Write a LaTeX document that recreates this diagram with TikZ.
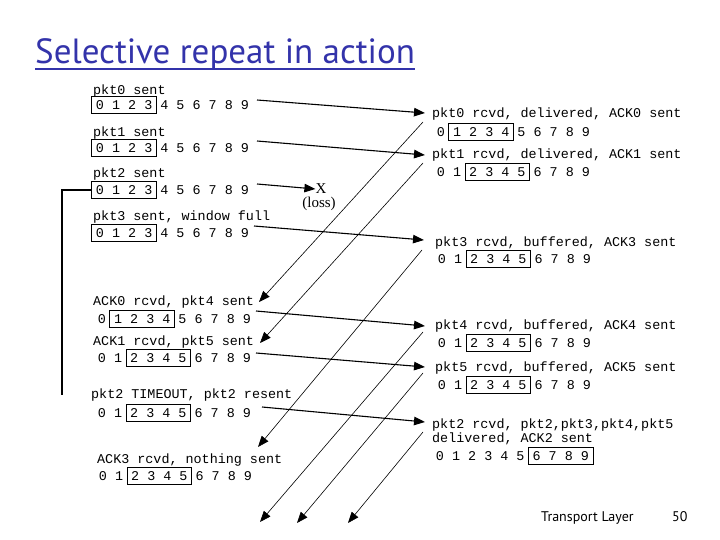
\documentclass[tikz,border=0pt]{standalone}
\usepackage{fontspec}
\setmainfont{Liberation Serif}
\newfontfamily\monofont{Liberation Mono}
\newfontfamily\titlefont{PT Sans}
\usetikzlibrary{arrows.meta,calc}
\definecolor{titleblue}{RGB}{51,51,170}
\tikzset{
  lbl/.style={font=\monofont\fontsize{13.4}{14}\selectfont, inner sep=0, anchor=west},
  dig/.style={font=\monofont\fontsize{13.4}{14}\selectfont, inner sep=0, minimum width=16.1pt, minimum height=17pt},
  win/.style={draw, line width=0.9pt},
  pkt/.style={line width=1.1pt, -{Triangle[length=11pt,width=8.5pt]}},
  ack/.style={line width=0.6pt, -{Triangle[length=11pt,width=8.5pt]}},
  losslbl/.style={font=\fontsize{15}{16}\selectfont, inner sep=0},
}
\newcommand\winrow[5]{%
  \foreach \d in {0,...,9}{\node[dig] (#1-\d) at ({#2+16.1*\d},#3) {\d};}
  \draw[win] (#1-#4.north west) rectangle (#1-#5.south east);
}
\begin{document}
\begin{tikzpicture}[x=1pt,y=-1pt]
\useasboundingbox (0,0) rectangle (720,540);

% title
\node[font=\titlefont\fontsize{35}{38}\selectfont, text=titleblue, anchor=base west, inner sep=0] (title) at (35,64) {Selective repeat in action};
\draw[titleblue, line width=2pt] ($(title.base west)+(0,5)$) -- ($(title.base east)+(0,5)$);

% sender labels
\node[lbl] (s0) at (93,91) {pkt0 sent};
\node[lbl] (s1) at (93,133) {pkt1 sent};
\node[lbl] (s2) at (93,174) {pkt2 sent};
\node[lbl] (s3) at (93,217) {pkt3 sent, window full};
\node[lbl] (s4) at (93,302) {ACK0 rcvd, pkt4 sent};
\node[lbl] (s5) at (93,342) {ACK1 rcvd, pkt5 sent};
\node[lbl] (s6) at (91,395) {pkt2 TIMEOUT, pkt2 resent};
\node[lbl] (s7) at (97,460) {ACK3 rcvd, nothing sent};

% sender windows
\winrow{S0}{100}{105}{0}{3}
\winrow{S1}{100}{148}{0}{3}
\winrow{S2}{100}{190}{0}{3}
\winrow{S3}{100}{233}{0}{3}
\winrow{S4}{102}{319}{1}{4}
\winrow{S5}{102}{358}{2}{5}
\winrow{S6}{102}{413}{2}{5}
\winrow{S7}{103}{476}{2}{5}

% receiver labels
\node[lbl] (r0) at (432,114) {pkt0 rcvd, delivered, ACK0 sent};
\node[lbl] (r1) at (432,155) {pkt1 rcvd, delivered, ACK1 sent};
\node[lbl] (r3) at (435,243) {pkt3 rcvd, buffered, ACK3 sent};
\node[lbl] (r4) at (435,326) {pkt4 rcvd, buffered, ACK4 sent};
\node[lbl] (r5) at (435,368) {pkt5 rcvd, buffered, ACK5 sent};
\node[lbl] (r2a) at (432,425) {pkt2 rcvd, pkt2,pkt3,pkt4,pkt5};
\node[lbl] (r2b) at (432,439) {delivered, ACK2 sent};

% receiver windows
\winrow{R0}{441}{132}{1}{4}
\winrow{R1}{441}{172}{2}{5}
\winrow{R3}{442}{259}{2}{5}
\winrow{R4}{442}{343}{2}{5}
\winrow{R5}{442}{385}{2}{5}
\winrow{R2}{440}{456}{6}{9}

% loss
\node[losslbl] (X) at (321,189) {X};
\node[losslbl] (loss) at (319,204) {(loss)};

% packet arrow end points
\coordinate (a0s) at (257,100); \coordinate (a0e) at (425,113);
\coordinate (a1s) at (257,141); \coordinate (a1e) at (425,155);
\coordinate (a2s) at (257,184);
\coordinate (a3s) at (254,226); \coordinate (a3e) at (424,240);
\coordinate (a4s) at (256,311); \coordinate (a4e) at (425,326);
\coordinate (a5s) at (256,353); \coordinate (a5e) at (425,367);
\coordinate (a6s) at (262,407); \coordinate (a6e) at (425,422);

\draw[pkt] (a0s) -- (a0e);
\draw[pkt] (a1s) -- (a1e);
\draw[pkt] (a2s) -- (X.west);
\draw[pkt] (a3s) -- (a3e);
\draw[pkt] (a4s) -- (a4e);
\draw[pkt] (a5s) -- (a5e);
\draw[pkt] (a6s) -- (a6e);

% ack arrow end points
\coordinate (k0s) at (423,122); \coordinate (k0e) at (259,302);
\coordinate (k1s) at (423,163); \coordinate (k1e) at (260,343);
\coordinate (k3s) at (422,250); \coordinate (k3e) at (258,447);
\coordinate (k4s) at (423,332); \coordinate (k4e) at (260,522);
\coordinate (k5s) at (423,373); \coordinate (k5e) at (297,523);
\coordinate (k2s) at (423,432); \coordinate (k2e) at (348,523);

\draw[ack] (k0s) -- (k0e);
\draw[ack] (k1s) -- (k1e);
\draw[ack] (k3s) -- (k3e);
\draw[ack] (k4s) -- (k4e);
\draw[ack] (k5s) -- (k5e);
\draw[ack] (k2s) -- (k2e);

% timeout bracket
\coordinate (brk) at (62,395);
\draw[line width=1.1pt] (S2-0.west) -| (brk);

% footer
\node[font=\titlefont\fontsize{14}{16}\selectfont, anchor=base west, inner sep=0] (foot) at (541,521) {Transport Layer};
\node[font=\titlefont\fontsize{14}{16}\selectfont, anchor=base west, inner sep=0] (pageno) at (672,521) {50};
\end{tikzpicture}
\end{document}
